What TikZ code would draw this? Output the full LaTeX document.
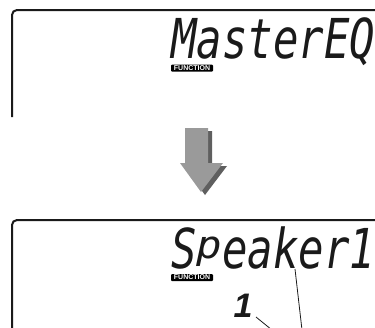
\documentclass[tikz,border=0pt]{standalone}
\usepackage{fontspec}
\usepackage{tikz}
\usetikzlibrary{positioning}
\newfontfamily\lcdfont{DejaVu Sans Mono}
\newfontfamily\tagfont{Liberation Sans}
\definecolor{lcdink}{HTML}{1A1A1A}
\definecolor{arrowgray}{HTML}{9A9A9A}
\definecolor{arrowshade}{HTML}{5F5F5F}
\newcommand{\Lcd}[1]{\raisebox{0pt}[\height][0pt]{\scalebox{0.77}[1]{\lcdfont\itshape #1}}}
\newcommand{\Up}[1]{\raisebox{0.165em}{\scalebox{1}[0.7]{#1}}}
\tikzset{
  panel/.style={line width=2pt, lcdink, rounded corners=5pt},
  lcdtext/.style={font=\fontsize{55}{55}\selectfont, text=lcdink, inner sep=0pt, anchor=base west},
  tagbox/.style={fill=black, text=white, rounded corners=1pt, inner sep=0pt,
                 minimum width=42pt, minimum height=7pt,
                 font=\tagfont\bfseries\fontsize{7}{7}\selectfont},
  digit/.style={font=\tagfont\bfseries\itshape\fontsize{34}{34}\selectfont, text=lcdink, inner sep=0pt},
  leader/.style={line width=0.8pt, lcdink},
  downarrow/.style={fill=arrowgray},
  downshade/.style={fill=arrowshade, shift={(4,3)}},
}

\begin{document}
\begin{tikzpicture}[x=1pt,y=-1pt]
  \useasboundingbox (0,0) rectangle (375,327);
  \draw[panel] (12,117) -- (12,10) -- (380,10);
  \node[lcdtext] (master) at (171,58){\Lcd{MasterEQ}};
  \node[tagbox] (tag1) at (192,68){FUNCTION};
  \fill[downshade] (185,128) -- (208,128) -- (208,163) -- (223,163) -- (201,192) -- (180,163) -- (185,163) -- cycle;
  \fill[downarrow] (185,128) -- (208,128) -- (208,163) -- (223,163) -- (201,192) -- (180,163) -- (185,163) -- cycle;
  \draw[panel] (12,335) -- (12,220) -- (380,220);
  \node[lcdtext] (speaker) at (171,268){\Lcd{S\Up{p}eaker1}};
  \node[tagbox] (tag2) at (192,277.5){FUNCTION};
  \node[digit] (num) at (243,305.5){1};
  \coordinate (lead1a) at (295,269);
  \coordinate (lead1b) at (302,330);
  \coordinate (lead2a) at (256,317);
  \coordinate (lead2b) at (272,330);
  \draw[leader] (lead1a) -- (lead1b);
  \draw[leader] (lead2a) -- (lead2b);
\end{tikzpicture}
\end{document}
